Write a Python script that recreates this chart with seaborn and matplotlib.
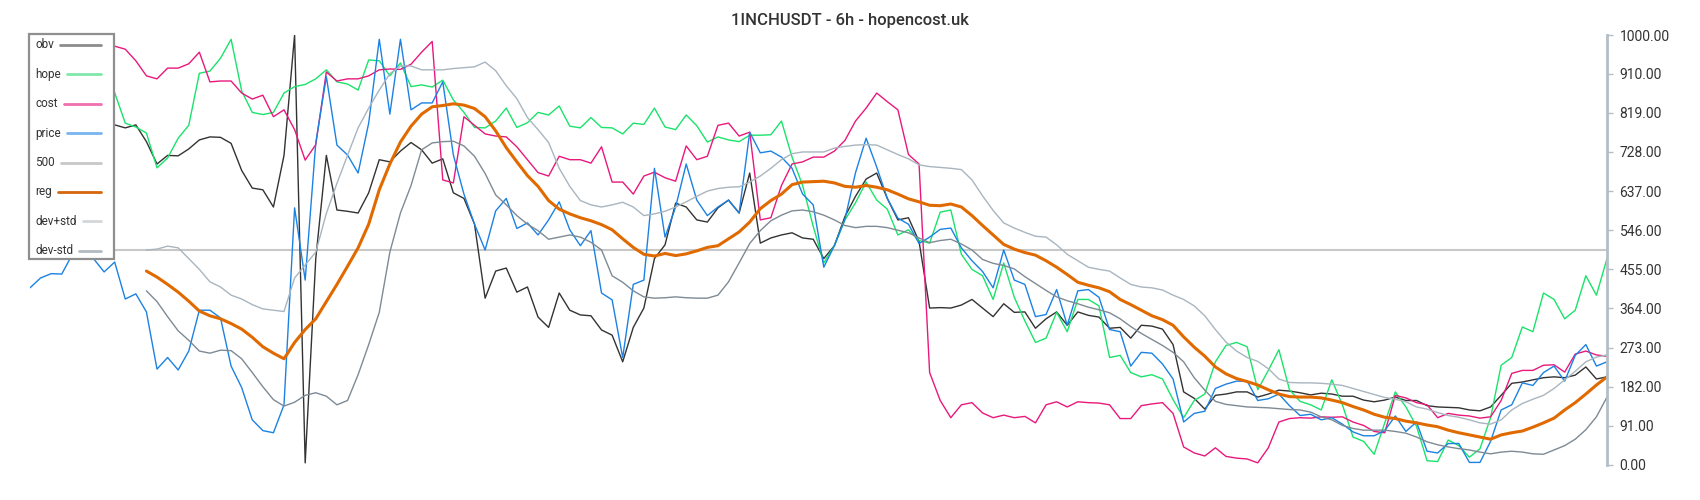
import numpy as np
import seaborn as sns
import matplotlib.pyplot as plt
from matplotlib.lines import Line2D
from matplotlib.patches import Rectangle

nan = np.nan

# ------------------------------
# Chart data (one value per step)
# ------------------------------
title = "1INCHUSDT - 6h - hopencost.uk"
y_ticks = [0, 91, 182, 273, 364, 455, 546, 637, 728, 819, 910, 1000]
level = 500

obv = [
    800, 810, 805, 800, 810, 805, 800, 805, 791, 784,
    791, 752, 700, 720, 719, 735, 756, 763, 762, 748,
    685, 644, 640, 600, 720, 1000, 5, 480, 720, 593,
    590, 586, 633, 710, 705, 730, 750, 733, 702, 712,
    633, 620, 560, 388, 451, 458, 402, 414, 344, 320,
    400, 360, 349, 347, 314, 302, 240, 320, 365, 480,
    512, 609, 600, 570, 565, 598, 616, 586, 679, 516,
    528, 535, 540, 528, 525, 480, 510, 578, 625, 665,
    679, 620, 570, 575, 520, 365, 366, 365, 372, 385,
    365, 345, 375, 355, 356, 318, 340, 356, 325, 356,
    348, 344, 318, 320, 295, 325, 323, 316, 280, 170,
    155, 130, 162, 165, 170, 170, 158, 165, 174, 172,
    168, 163, 167, 165, 160, 160, 151, 147, 151, 158,
    150, 150, 138, 135, 134, 133, 128, 126, 135, 162,
    190, 193, 198, 203, 205, 203, 209, 228, 200, 205,
]

hope = [
    820, 830, 840, 850, 845, 850, 840, 845, 866, 795,
    786, 772, 691, 714, 760, 790, 911, 916, 946, 990,
    870, 820, 815, 820, 865, 880, 885, 898, 919, 891,
    886, 872, 942, 940, 905, 935, 880, 884, 879, 895,
    849, 820, 785, 784, 800, 830, 785, 796, 820, 814,
    835, 788, 784, 808, 785, 784, 770, 795, 792, 830,
    786, 780, 814, 789, 751, 763, 756, 752, 767, 767,
    768, 800, 716, 650, 555, 470, 510, 570, 610, 658,
    616, 595, 535, 547, 522, 516, 588, 593, 490, 455,
    440, 385, 470, 390, 335, 285, 295, 355, 310, 385,
    385, 370, 250, 255, 215, 205, 210, 200, 152, 110,
    150, 165, 240, 278, 285, 275, 175, 220, 268, 175,
    148, 140, 128, 198, 140, 65, 55, 25, 98, 170,
    135, 90, 10, 8, 58, 45, 18, 38, 110, 232,
    250, 321, 310, 400, 385, 340, 360, 440, 395, 480,
]

cost = [
    972, 975, 978, 980, 978, 976, 975, 974, 974, 967,
    940, 905, 898, 923, 923, 933, 960, 891, 893, 893,
    865, 851, 860, 810, 826, 780, 709, 745, 914, 893,
    898, 898, 905, 919, 921, 920, 932, 960, 985, 663,
    656, 810, 790, 770, 765, 763, 740, 710, 680, 672,
    718, 710, 710, 702, 740, 658, 658, 630, 672, 681,
    668, 660, 742, 710, 718, 790, 795, 765, 774, 570,
    575, 650, 700, 705, 716, 716, 730, 755, 800, 830,
    865, 845, 826, 722, 700, 215, 150, 110, 140, 145,
    121, 110, 116, 110, 113, 98, 140, 147, 135, 147,
    145, 144, 140, 108, 108, 138, 142, 145, 120, 42,
    28, 21, 40, 20, 16, 14, 5, 40, 100, 108,
    110, 109, 112, 111, 112, 100, 92, 78, 75, 162,
    156, 145, 140, 110, 120, 116, 114, 109, 112, 150,
    213, 220, 220, 232, 233, 216, 258, 265, 256, 253,
]

price = [
    412, 435, 445, 444, 490, 495, 480, 449, 472, 386,
    398, 356, 223, 250, 221, 265, 360, 360, 342, 230,
    180, 105, 80, 75, 140, 598, 430, 749, 903, 744,
    721, 679, 795, 990, 816, 990, 826, 842, 842, 891,
    721, 630, 560, 500, 591, 620, 550, 563, 535, 570,
    612, 547, 510, 545, 400, 384, 250, 420, 430, 690,
    530, 600, 700, 616, 580, 600, 616, 586, 774, 726,
    730, 716, 690, 630, 605, 460, 510, 572, 680, 760,
    693, 620, 574, 560, 515, 530, 548, 551, 505, 475,
    450, 412, 500, 430, 420, 345, 350, 408, 325, 405,
    408, 390, 315, 310, 230, 262, 260, 235, 200, 100,
    120, 125, 178, 188, 195, 195, 150, 154, 165, 138,
    115, 118, 105, 110, 95, 77, 68, 68, 80, 114,
    78, 100, 32, 28, 50, 50, 6, 6, 55, 128,
    140, 191, 185, 215, 230, 195, 255, 280, 230, 240,
]

reg = [
    nan, nan, nan, nan, nan, nan, nan, nan, nan, nan,
    nan, 451, 437, 420, 402, 381, 358, 347, 340, 329,
    316, 297, 275, 260, 247, 285, 315, 340, 380, 420,
    462, 505, 560, 640, 700, 751, 788, 816, 833, 836,
    840, 837, 829, 810, 777, 738, 705, 673, 648, 615,
    595, 584, 575, 568, 559, 547, 526, 506, 490, 486,
    492, 487, 491, 498, 506, 510, 526, 542, 565, 596,
    615, 630, 652, 658, 659, 660, 656, 648, 646, 650,
    646, 640, 630, 619, 612, 604, 603, 607, 600, 580,
    557, 535, 513, 502, 494, 488, 475, 460, 443, 425,
    418, 412, 403, 385, 373, 360, 347, 338, 325, 298,
    274, 253, 228, 212, 201, 194, 186, 175, 165, 159,
    158, 158, 156, 151, 145, 136, 128, 118, 111, 108,
    102, 98, 93, 89, 81, 75, 70, 65, 60, 70,
    75, 79, 88, 98, 109, 128, 145, 165, 186, 205,
]

dev_plus = [
    nan, nan, nan, nan, nan, nan, nan, nan, nan, nan,
    nan, 500, 502, 509, 505, 480, 455, 426, 414, 395,
    386, 373, 363, 360, 357, 435, 465, 495, 585, 655,
    720, 784, 830, 872, 910, 928, 928, 919, 919, 919,
    922, 924, 926, 937, 917, 882, 852, 808, 780, 750,
    690, 648, 615, 605, 600, 605, 611, 600, 580, 584,
    590, 600, 612, 625, 637, 643, 646, 647, 658, 672,
    690, 710, 724, 728, 728, 728, 737, 741, 744, 745,
    744, 733, 722, 712, 698, 694, 692, 690, 687, 663,
    626, 592, 563, 551, 541, 532, 530, 512, 490, 475,
    460, 455, 451, 435, 420, 414, 412, 407, 395, 385,
    370, 347, 315, 286, 265, 250, 241, 224, 200, 192,
    191, 191, 190, 188, 185, 178, 171, 164, 157, 153,
    147, 135, 130, 122, 115, 111, 105, 98, 95, 105,
    128, 143, 153, 162, 178, 198, 218, 240, 251, 256,
]

dev_minus = [
    nan, nan, nan, nan, nan, nan, nan, nan, nan, nan,
    nan, 405, 380, 345, 312, 290, 265, 260, 267, 266,
    247, 215, 182, 152, 137, 146, 162, 168, 160, 140,
    150, 210, 280, 355, 495, 586, 650, 733, 749, 752,
    753, 742, 718, 678, 628, 605, 580, 560, 545, 525,
    530, 535, 530, 518, 500, 440, 425, 405, 391, 388,
    389, 391, 389, 388, 388, 395, 426, 470, 515, 545,
    568, 581, 591, 593, 589, 581, 570, 557, 552, 555,
    555, 552, 546, 540, 528, 517, 522, 525, 514, 500,
    478, 469, 464, 456, 438, 422, 406, 391, 382, 375,
    367, 361, 354, 340, 322, 306, 292, 278, 262, 240,
    203, 174, 148, 141, 138, 135, 134, 133, 131, 129,
    128, 123, 112, 105, 92, 85, 81, 81, 81, 78,
    74, 65, 54, 47, 42, 38, 35, 30, 26, 30,
    32, 30, 26, 25, 35, 45, 60, 82, 112, 158,
]

legend_names = ["obv", "hope", "cost", "price", "500", "reg", "dev+std", "dev-std"]
legend_colors = ["#8c8c8c", "#80e8ab", "#ee70ae", "#78b5ee",
                 "#c8c8c8", "#d5660c", "#d3d7da", "#b3bbc1"]

# ------------------------------
# Figure setup
# ------------------------------
sns.set_style("white")
plt.rcParams["font.family"] = ["Roboto", "DejaVu Sans"]

W, H = 1700, 500
fig = plt.figure(figsize=(W / 100, H / 100), dpi=100)
ax = fig.add_axes([30 / W, 35 / H, 1577 / W, 430 / H])

t = np.arange(len(price))

ax.axhline(level, color="#c8c8c8", linewidth=1.5, zorder=1)

lines = [
    (obv, "#333333", 1.0),
    (hope, "#1ae36b", 1.0),
    (cost, "#e8187c", 1.0),
    (price, "#1b82e4", 1.0),
    (reg, "#e06a00", 2.2),
    (dev_plus, "#a9b5bf", 1.0),
    (dev_minus, "#7e8a94", 1.0),
]
for vals, color, lw in lines:
    sns.lineplot(x=t, y=vals, color=color, linewidth=lw, ax=ax,
                 legend=False, estimator=None, errorbar=None)

ax.set_xlim(0, len(t) - 1)
ax.set_ylim(0, 1000)
ax.set_xticks([])
ax.set_xlabel("")
ax.set_ylabel("")
ax.yaxis.tick_right()
ax.set_yticks(y_ticks)
ax.set_yticklabels([f"{v:.2f}" for v in y_ticks])
for s in ["left", "top", "bottom"]:
    ax.spines[s].set_visible(False)
ax.spines["right"].set_color("#b4bec6")
ax.spines["right"].set_linewidth(2)
ax.tick_params(axis="y", right=True, left=False, length=4, width=1,
               color="#b4bec6", labelsize=10, labelcolor="#333333", pad=5)

fig.text(0.5, 1 - 21 / H, title, ha="center", va="center",
         fontsize=12, fontweight="medium", color="#333333")

# ------------------------------
# Legend box (text first, line after it)
# ------------------------------
box = Rectangle((29 / W, 1 - 259 / H), 85 / W, 225 / H, transform=fig.transFigure,
                facecolor="white", edgecolor="#8f8f8f", linewidth=1.6, zorder=5)
fig.add_artist(box)

label_texts = []
for i, name in enumerate(legend_names):
    y = 1 - (45 + i * 29.4) / H
    txt = fig.text(35 / W, y, name, ha="left", va="center", fontsize=8.5,
                   color="#333333", zorder=6)
    label_texts.append((txt, y))

fig.canvas.draw()
renderer = fig.canvas.get_renderer()
for (txt, y), color in zip(label_texts, legend_colors):
    bb = txt.get_window_extent(renderer)
    x0 = (bb.x1 + 6) / W
    fig.add_artist(Line2D([x0, 101 / W], [y, y], transform=fig.transFigure,
                          color=color, linewidth=2.0, zorder=6))

fig.savefig("out.png", dpi=100, facecolor="white")
